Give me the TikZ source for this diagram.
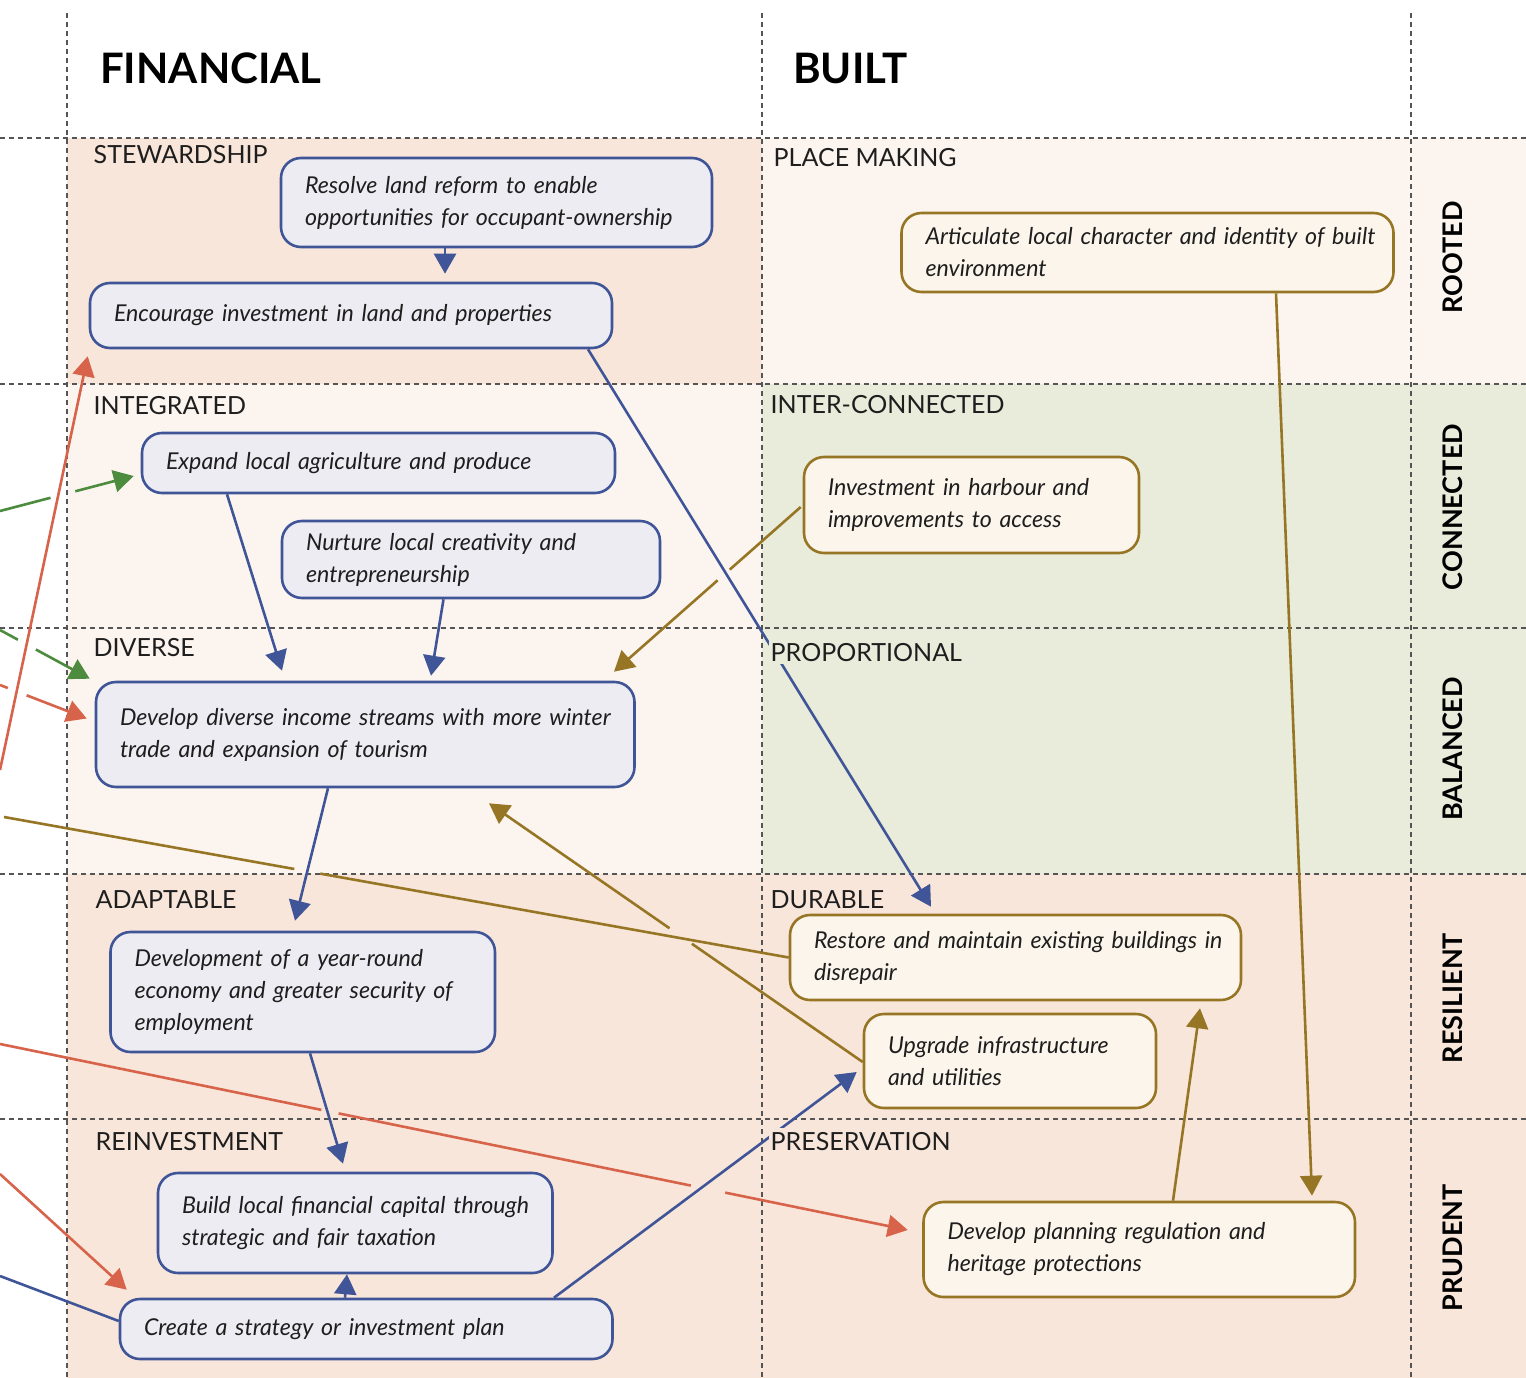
\documentclass[tikz,border=0pt]{standalone}
\usepackage{fontspec}
\setmainfont{Lato}
\usetikzlibrary{arrows.meta,calc}
\definecolor{bstroke}{HTML}{3F5597}
\definecolor{bfill}{HTML}{ECECF2}
\definecolor{gstroke}{HTML}{967624}
\definecolor{gfill}{HTML}{FCF5EC}
\definecolor{salmon}{HTML}{F9E6DA}
\definecolor{lightbg}{HTML}{FCF5EF}
\definecolor{sage}{HTML}{E9EBDB}
\definecolor{redl}{HTML}{D6634A}
\definecolor{greenl}{HTML}{4D8B3F}
\definecolor{gridc}{HTML}{555555}
\definecolor{txt}{HTML}{1E1E1E}
\hfuzz=100pt
\begin{document}
\begin{tikzpicture}[x=1pt,y=-1pt,
  box/.style={rectangle, rounded corners=20pt, line width=2.6pt, align=left,
    inner xsep=24pt, inner ysep=0pt, font=\fontsize{23.2}{32}\selectfont\itshape, text=txt},
  fbox/.style={box, draw=bstroke, fill=bfill},
  bbox/.style={box, draw=gstroke, fill=gfill},
  gridline/.style={draw=gridc, line width=1.3pt, dash pattern=on 5pt off 4pt},
  sect/.style={anchor=base west, inner sep=1.5pt, font=\fontsize{25}{25}\selectfont, text=txt},
  head/.style={anchor=base west, inner sep=0pt, font=\fontsize{42}{42}\selectfont\bfseries, text=black},
  side/.style={rotate=90, inner sep=0pt, font=\fontsize{27}{27}\selectfont\bfseries, text=black},
  conn/.style={line width=2.6pt},
  arr/.style={conn, -{Triangle[length=20pt,width=22pt]}},
  blue/.style={draw=bstroke, color=bstroke},
  gold/.style={draw=gstroke, color=gstroke},
  redc/.style={draw=redl, color=redl},
  grn/.style={draw=greenl, color=greenl}
]
\useasboundingbox (0,0) rectangle (1526,1378);
% backgrounds
\fill[white] (0,0) rectangle (1526,1378);
\fill[salmon] (67,138) rectangle (762,384);
\fill[lightbg] (67,384) rectangle (762,874);
\fill[salmon] (67,874) rectangle (762,1378);
\fill[lightbg] (762,138) rectangle (1526,384);
\fill[sage] (762,384) rectangle (1526,874);
\fill[salmon] (762,874) rectangle (1526,1378);
% grid
\foreach \yy in {138,384,628,874,1119} \draw[gridline] (0,\yy) -- (1526,\yy);
\foreach \xx in {67,762,1411} \draw[gridline] (\xx,13) -- (\xx,1378);
% headers
\node[head] (hfin) at (100,84) {FINANCIAL};
\node[head] (hbuilt) at (793,84) {BUILT};
\node[side] (srooted) at (1452.5,257.5) {ROOTED};
\node[side] (sconn) at (1452.5,507) {CONNECTED};
\node[side] (sbal) at (1452.5,749) {BALANCED};
\node[side] (sres) at (1452.5,998) {RESILIENT};
\node[side] (sprud) at (1452.5,1248) {PRUDENT};
% section labels
\node[sect] (lstew) at (92,164) {STEWARDSHIP};
\node[sect] (lint) at (92,414) {INTEGRATED};
\node[sect] (ldiv) at (92,656) {DIVERSE};
\node[sect] (lada) at (94,908) {ADAPTABLE};
\node[sect] (lrei) at (94,1150) {REINVESTMENT};
\node[sect] (lplace) at (772,167) {PLACE MAKING};
\node[sect] (linter) at (769,413) {INTER-CONNECTED};
\node[sect] (ldur) at (769,908) {DURABLE};
% financial nodes
\node[fbox, text width=383pt, minimum height=89pt] (res) at (496.5,202.5)
  {\mbox{Resolve land reform to enable}\\\mbox{opportunities for occupant-ownership}};
\node[fbox, text width=474pt, minimum height=65pt] (enc) at (351,315.5)
  {\mbox{Encourage investment in land and properties}};
\node[fbox, text width=425pt, minimum height=60pt] (exp) at (378.5,463)
  {\mbox{Expand local agriculture and produce}};
\node[fbox, text width=330pt, minimum height=77pt] (nur) at (471,559.5)
  {\mbox{Nurture local creativity and}\\\mbox{entrepreneurship}};
\node[fbox, text width=490.5pt, minimum height=105pt] (div) at (365.25,734.5)
  {\mbox{Develop diverse income streams with more winter}\\\mbox{trade and expansion of tourism}};
\node[fbox, text width=336.5pt, minimum height=120pt] (dev) at (302.75,992)
  {\mbox{Development of a year-round}\\\mbox{economy and greater security of}\\\mbox{employment}};
\node[fbox, text width=346.5pt, minimum height=100pt] (bld) at (355.25,1223)
  {\mbox{Build local financial capital through}\\\mbox{strategic and fair taxation}};
\node[fbox, text width=444.5pt, minimum height=60pt] (cre) at (366.25,1329)
  {\mbox{Create a strategy or investment plan}};
% built nodes
\node[bbox, text width=444pt, minimum height=79pt] (art) at (1147.5,252.5)
  {\mbox{Articulate local character and identity of built}\\\mbox{environment}};
\node[bbox, text width=287pt, minimum height=96pt] (har) at (971.5,505)
  {\mbox{Investment in harbour and}\\\mbox{improvements to access}};
\node[bbox, text width=403pt, minimum height=85pt] (rst) at (1015.5,957.5)
  {\mbox{Restore and maintain existing buildings in}\\\mbox{disrepair}};
\node[bbox, text width=244pt, minimum height=94pt] (upg) at (1010,1061)
  {\mbox{Upgrade infrastructure}\\\mbox{and utilities}};
\node[bbox, text width=383.5pt, minimum height=95pt] (pln) at (1139.25,1249.5)
  {\mbox{Develop planning regulation and}\\\mbox{heritage protections}};
% connector end points
\coordinate (aS) at ($(res.south)+(-51.5,0)$);  \coordinate (aE) at ($(enc.north)+(94,-8)$);
\coordinate (bS) at ($(enc.south)+(237,0)$);    \coordinate (bE) at ($(rst.north)+(-84.5,-7)$);
\coordinate (cS) at ($(exp.south)+(-151.5,0)$); \coordinate (cE) at ($(div.north)+(-83.25,-10)$);
\coordinate (dS) at ($(nur.south)+(-27.5,0)$);  \coordinate (dE) at ($(div.north)+(65.75,-5)$);
\coordinate (eS) at ($(div.south)+(-37.25,0)$); \coordinate (eE) at ($(dev.north)+(-7.75,-10)$);
\coordinate (fS) at ($(dev.south)+(7.25,0)$);   \coordinate (fE) at ($(bld.north)+(-12.25,-8)$);
\coordinate (gS) at ($(cre.north)+(-21.25,0)$); \coordinate (gE) at ($(bld.south)+(-8.25,0)$);
\coordinate (hS) at ($(cre.north)+(187.75,0)$); \coordinate (hE) at ($(upg.west)+(-6,11)$);
\coordinate (iS) at (0,1276);                   \coordinate (iE) at ($(cre.west)+(0,-8)$);
\coordinate (jS) at ($(art.south)+(128.5,0)$);  \coordinate (jE) at ($(pln.north)+(172.75,-5)$);
\coordinate (kS) at ($(har.west)+(-2,2)$);      \coordinate (kE) at ($(div.north)+(248.75,-9)$);
\coordinate (lS) at (4,817);                    \coordinate (lE) at (rst.west);
\coordinate (mS) at ($(upg.west)+(0,1)$);       \coordinate (mE) at ($(div.south)+(123.75,15)$);
\coordinate (nS) at ($(pln.north)+(33.75,0)$);  \coordinate (nE) at ($(rst.south)+(184.5,7)$);
\coordinate (g1S) at (0,511);                   \coordinate (g1E) at ($(exp.west)+(-7,13)$);
\coordinate (g2S) at (0,630);                   \coordinate (g2E) at ($(div.north west)+(-5,-2)$);
\coordinate (r1S) at (0,770);                   \coordinate (r1E) at ($(enc.south west)+(-1,7)$);
\coordinate (r2S) at (0,685);                   \coordinate (r2E) at ($(div.west)+(-8,-16)$);
\coordinate (r3S) at (0,1174);                  \coordinate (r3E) at ($(cre.north west)+(8,-8)$);
\coordinate (r4S) at (0,1044);                  \coordinate (r4E) at ($(pln.west)+(-14.5,-19.5)$);
% blue connectors
\draw[arr,blue] (aS) -- (aE);
\draw[arr,blue] (bS) -- (bE);
\draw[arr,blue] (cS) -- (cE);
\draw[arr,blue] (dS) -- (dE);
\draw[arr,blue] (eS) -- (eE);
\draw[arr,blue] (fS) -- (fE);
\draw[arr,blue] (gS) -- (gE);
\draw[arr,blue] (hS) -- (hE);
\draw[conn,blue] (iS) -- (iE);
% gold connectors
\draw[arr,gold] (jS) -- (jE);
\draw[conn,gold] (kS) -- ($(kS)!0.38!(kE)$);
\draw[arr,gold] ($(kS)!0.445!(kE)$) -- (kE);
\draw[conn,gold] (lS) -- ($(lS)!0.370!(lE)$);
\draw[conn,gold] ($(lS)!0.403!(lE)$) -- (lE);
\draw[conn,gold] (mS) -- ($(mS)!0.457!(mE)$);
\draw[arr,gold] ($(mS)!0.517!(mE)$) -- (mE);
\draw[arr,gold] (nS) -- (nE);
% green connectors
\draw[conn,grn] (g1S) -- ($(g1S)!0.378!(g1E)$);
\draw[arr,grn] ($(g1S)!0.563!(g1E)$) -- (g1E);
\draw[conn,grn] (g2S) -- ($(g2S)!0.2!(g2E)$);
\draw[arr,grn] ($(g2S)!0.4!(g2E)$) -- (g2E);
% red connectors
\draw[arr,redc] (r1S) -- (r1E);
\draw[conn,redc] (r2S) -- ($(r2S)!0.09!(r2E)$);
\draw[arr,redc] ($(r2S)!0.307!(r2E)$) -- (r2E);
\draw[arr,redc] (r3S) -- (r3E);
\draw[conn,redc] (r4S) -- ($(r4S)!0.354!(r4E)$);
\draw[conn,redc] ($(r4S)!0.373!(r4E)$) -- ($(r4S)!0.761!(r4E)$);
\draw[arr,redc] ($(r4S)!0.799!(r4E)$) -- (r4E);
% labels that mask lines
\node[sect, fill=sage, inner ysep=3pt] (lprop) at (769,661) {PROPORTIONAL};
\node[sect, fill=salmon, inner ysep=4pt] (lpres) at (769,1150) {PRESERVATION};
\end{tikzpicture}
\end{document}
